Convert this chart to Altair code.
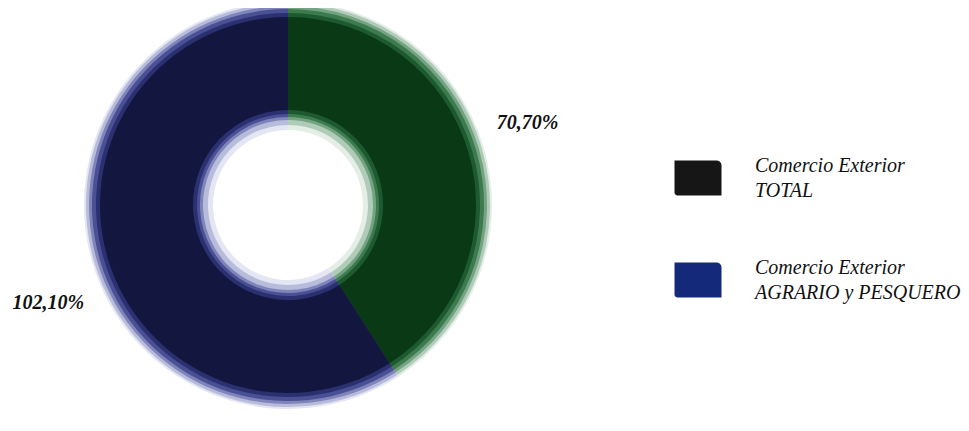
import altair as alt
import pandas as pd

# ---- data ----
series = ["Comercio Exterior TOTAL", "Comercio Exterior AGRARIO y PESQUERO"]
values = [70.70, 102.10]
order = [0, 1]
labels = [f"{v:.2f}".replace(".", ",") + "%" for v in values]

legend_line1 = ["Comercio Exterior", "Comercio Exterior"]
legend_line2 = ["TOTAL", "AGRARIO y PESQUERO"]
legend_idx = [0, 1]

df = pd.DataFrame({"name": series, "value": values, "ord": order, "label": labels})
leg = pd.DataFrame({
    "name": series,
    "idx": legend_idx,
    "text": [a + "\n" + b for a, b in zip(legend_line1, legend_line2)],
})

W, H = 953, 415
CX, CY = 280, 197
SERIF = "Liberation Serif, Times New Roman, DejaVu Serif, serif"

base = alt.Chart(df)

# soft-edged ring simulated with concentric bands
bands = [
    (204, 75, ["#e4eee7", "#e4e6f3"]),
    (202, 80, ["#b0ccb8", "#b8bcdb"]),
    (199, 85, ["#74a382", "#7f84ba"]),
    (196, 88, ["#3d7b4f", "#4a5093"]),
    (192, 91, ["#1e5a30", "#2b3170"]),
    (188, 95, ["#0a3a15", "#13173f"]),
]
layers = []
for ro, ri, cols in bands:
    layers.append(
        base.mark_arc(radius=ro, radius2=ri, stroke=None).encode(
            theta=alt.Theta("value:Q", stack=True),
            order=alt.Order("ord:Q"),
            color=alt.Color("name:N", scale=alt.Scale(domain=series, range=cols), legend=None),
            x=alt.value(CX),
            y=alt.value(CY),
        )
    )

pct = base.mark_text(
    radius=256, thetaOffset=-0.075, dy=8, font=SERIF, fontSize=20, fontStyle="italic",
    fontWeight="bold", color="#111111", align="center", baseline="middle",
).encode(
    theta=alt.Theta("value:Q", stack=True),
    order=alt.Order("ord:Q"),
    text="label:N",
    x=alt.value(CX),
    y=alt.value(CY),
)

ly = alt.Y("idx:Q", scale=alt.Scale(domain=[0, 1], range=[170, 272]), axis=None)
leg_rect = alt.Chart(leg).mark_rect(width=47, height=35, cornerRadiusTopRight=5, cornerRadiusBottomLeft=3).encode(
    x=alt.value(690),
    y=ly,
    color=alt.Color("name:N", scale=alt.Scale(domain=series, range=["#161616", "#15297a"]), legend=None),
)
leg_text = alt.Chart(leg).mark_text(
    align="left", baseline="middle", font=SERIF, fontSize=20, dy=-12.5,
    fontStyle="italic", lineBreak="\n", lineHeight=25, color="#111111",
).encode(
    x=alt.value(747),
    y=ly,
    text="text:N",
)

chart = alt.layer(*layers, pct, leg_rect, leg_text).resolve_scale(color="independent").properties(
    width=W, height=H, padding=0,
    autosize=alt.AutoSizeParams(type="none"),
).configure_view(stroke=None)

chart.save("out.html", embed_options={"renderer": "svg", "actions": False})
